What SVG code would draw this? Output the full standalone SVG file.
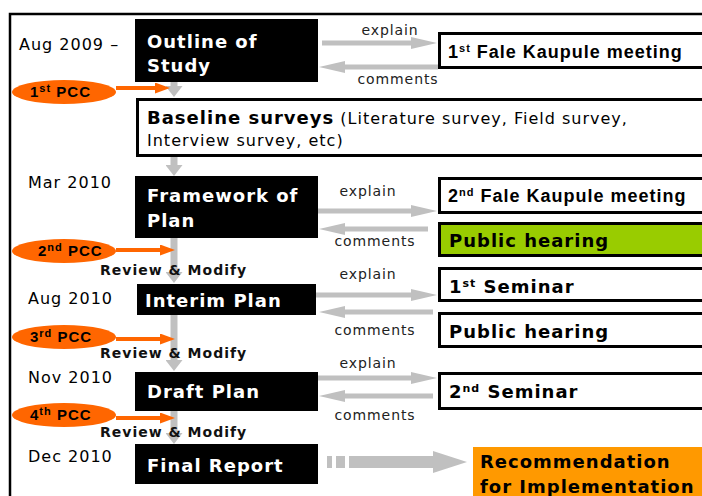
<svg xmlns="http://www.w3.org/2000/svg" width="702" height="496" viewBox="0 0 702 496">
<style>
.v{font-family:"DejaVu Sans","Verdana",sans-serif}
.a{font-family:"Liberation Sans",Arial,sans-serif}
.date{font-size:16px;fill:#000;letter-spacing:1px}
.wb{font-size:18px;font-weight:bold;fill:#fff;letter-spacing:1px}
.blk{fill:#000}
.wbox{fill:#fff;stroke:#000;stroke-width:3}
.rb{font-size:18px;font-weight:bold;fill:#000;letter-spacing:1px}
.lbl{font-size:14px;fill:#222;text-anchor:middle;letter-spacing:0.9px}
.rm{font-size:14px;font-weight:bold;fill:#111;letter-spacing:1px}
.pcc{font-size:15px;font-weight:bold;fill:#000;letter-spacing:1px}
.ell{fill:#FF6600}
.gh{stroke:#C0C0C0;stroke-width:5;fill:none}
.gv{stroke:#C0C0C0;stroke-width:7;fill:none}
.oa{stroke:#FF6600;stroke-width:4;fill:none}
.sup{font-size:11px}
</style>
<defs>
<marker id="mh" markerUnits="userSpaceOnUse" markerWidth="26" markerHeight="12" viewBox="0 0 26 12" refX="1" refY="6" orient="auto"><path d="M0,0 L26,6 L0,12 z" fill="#C0C0C0"/></marker>
<marker id="mv" markerUnits="userSpaceOnUse" markerWidth="11" markerHeight="17" viewBox="0 0 11 17" refX="1" refY="8.5" orient="auto"><path d="M0,0 L11,8.5 L0,17 z" fill="#C0C0C0"/></marker>
<marker id="mo" markerUnits="userSpaceOnUse" markerWidth="15" markerHeight="11" viewBox="0 0 15 11" refX="1" refY="5.5" orient="auto"><path d="M0,0 L15,5.5 L0,11 z" fill="#FF6600"/></marker>
</defs>
<rect width="702" height="496" fill="#fff"/>
<path d="M10,500 V14 H710" fill="none" stroke="#000" stroke-width="2.5"/>

<g id="connectors">
<line class="gv" x1="174" y1="82" x2="174" y2="87" marker-end="url(#mv)"/>
<line class="gv" x1="174" y1="157" x2="174" y2="166" marker-end="url(#mv)"/>
<line class="gv" x1="174" y1="238" x2="174" y2="273" marker-end="url(#mv)"/>
<line class="gv" x1="174" y1="315" x2="174" y2="361" marker-end="url(#mv)"/>
<line class="gv" x1="174" y1="411" x2="174" y2="434" marker-end="url(#mv)"/>
<line class="gh" x1="322" y1="43" x2="412" y2="43" marker-end="url(#mh)"/>
<line class="gh" x1="438" y1="67" x2="344" y2="67" marker-end="url(#mh)"/>
<line class="gh" x1="318" y1="211" x2="412" y2="211" marker-end="url(#mh)"/>
<line class="gh" x1="428" y1="229" x2="344" y2="229" marker-end="url(#mh)"/>
<line class="gh" x1="316" y1="295" x2="412" y2="295" marker-end="url(#mh)"/>
<line class="gh" x1="433" y1="312" x2="344" y2="312" marker-end="url(#mh)"/>
<line class="gh" x1="316" y1="378" x2="412" y2="378" marker-end="url(#mh)"/>
<line class="gh" x1="433" y1="396" x2="344" y2="396" marker-end="url(#mh)"/>
<line class="oa" x1="116" y1="88" x2="156" y2="88" marker-end="url(#mo)"/>
<line class="oa" x1="116" y1="250" x2="161" y2="250" marker-end="url(#mo)"/>
<line class="oa" x1="116" y1="339" x2="161" y2="339" marker-end="url(#mo)"/>
<line class="oa" x1="116" y1="418" x2="161" y2="418" marker-end="url(#mo)"/>
<rect x="327" y="456" width="5" height="12" fill="#C0C0C0"/>
<rect x="336" y="456" width="9" height="12" fill="#C0C0C0"/>
<rect x="349" y="456" width="85" height="12" fill="#C0C0C0"/>
<polygon points="433,451 467,462 433,473" fill="#C0C0C0"/>
<text class="v lbl" x="390" y="35">explain</text>
<text class="v lbl" x="398" y="84">comments</text>
<text class="v lbl" x="368" y="196">explain</text>
<text class="v lbl" x="375" y="246">comments</text>
<text class="v lbl" x="368" y="279">explain</text>
<text class="v lbl" x="375" y="335">comments</text>
<text class="v lbl" x="368" y="368">explain</text>
<text class="v lbl" x="375" y="420">comments</text>
<text class="v rm" x="100" y="275">Review &amp; Modify</text>
<text class="v rm" x="100" y="358">Review &amp; Modify</text>
<text class="v rm" x="100" y="437">Review &amp; Modify</text>
</g>

<g id="dates">
<text class="v date" x="19" y="50">Aug 2009 –</text>
<text class="v date" x="28" y="188">Mar 2010</text>
<text class="v date" x="28" y="304">Aug 2010</text>
<text class="v date" x="28" y="383">Nov 2010</text>
<text class="v date" x="28" y="462">Dec 2010</text>
</g>

<g id="outline">
<rect class="blk" x="135" y="19" width="183" height="63"/>
<text class="v wb" x="147" y="48">Outline of</text>
<text class="v wb" x="147" y="72">Study</text>
</g>
<g id="baseline">
<rect class="wbox" x="137.5" y="99.5" width="580" height="56"/>
<text class="v" x="147" y="124" font-size="16" letter-spacing="1"><tspan font-weight="bold" font-size="18">Baseline surveys</tspan> (Literature survey, Field survey,</text>
<text class="v" x="147" y="146" font-size="16" letter-spacing="1">Interview survey, etc)</text>
</g>
<g id="framework">
<rect class="blk" x="135" y="176" width="183" height="62"/>
<text class="v wb" x="147" y="202" letter-spacing="1.2">Framework of</text>
<text class="v wb" x="147" y="227">Plan</text>
</g>
<g id="interim">
<rect class="blk" x="137" y="284" width="179" height="31"/>
<text class="v wb" x="145" y="307" letter-spacing="1.3">Interim Plan</text>
</g>
<g id="draft">
<rect class="blk" x="135" y="372" width="183" height="39"/>
<text class="v wb" x="147" y="398">Draft Plan</text>
</g>
<g id="final">
<rect class="blk" x="135" y="444" width="183" height="40"/>
<text class="v wb" x="147" y="472">Final Report</text>
</g>

<g id="fale1">
<rect class="wbox" x="439.5" y="33.5" width="280" height="34"/>
<text class="a rb" x="448" y="58">1<tspan class="sup" dy="-6">st</tspan><tspan dy="6"> Fale Kaupule meeting</tspan></text>
</g>
<g id="fale2">
<rect class="wbox" x="439.5" y="178.5" width="280" height="34"/>
<text class="a rb" x="448" y="202" letter-spacing="1.2">2<tspan class="sup" dy="-6">nd</tspan><tspan dy="6"> Fale Kaupule meeting</tspan></text>
</g>
<g id="hearing1">
<rect class="wbox" x="439.5" y="223.5" width="280" height="32" style="fill:#99CC00"/>
<text class="v rb" x="449" y="247">Public hearing</text>
</g>
<g id="seminar1">
<rect class="wbox" x="439.5" y="268.5" width="280" height="32"/>
<text class="v rb" x="449" y="293">1<tspan class="sup" dy="-6">st</tspan><tspan dy="6"> Seminar</tspan></text>
</g>
<g id="hearing2">
<rect class="wbox" x="439.5" y="313.5" width="280" height="33"/>
<text class="v rb" x="449" y="338">Public hearing</text>
</g>
<g id="seminar2">
<rect class="wbox" x="439.5" y="373.5" width="280" height="35"/>
<text class="v rb" x="449" y="398">2<tspan class="sup" dy="-6">nd</tspan><tspan dy="6"> Seminar</tspan></text>
</g>
<g id="recommendation">
<rect x="473" y="447" width="240" height="60" fill="#FF9900"/>
<text class="v rb" x="480" y="468" letter-spacing="1.9">Recommendation</text>
<text class="v rb" x="480" y="493" letter-spacing="1.8">for Implementation</text>
</g>

<g id="pcc1">
<ellipse class="ell" cx="64" cy="92" rx="52" ry="12"/>
<text class="a pcc" x="30" y="97">1<tspan class="sup" dy="-5">st</tspan><tspan dy="5"> PCC</tspan></text>
</g>
<g id="pcc2">
<ellipse class="ell" cx="64" cy="251" rx="52" ry="12"/>
<text class="a pcc" x="38" y="256">2<tspan class="sup" dy="-5">nd</tspan><tspan dy="5"> PCC</tspan></text>
</g>
<g id="pcc3">
<ellipse class="ell" cx="64" cy="337" rx="52" ry="12"/>
<text class="a pcc" x="30" y="342">3<tspan class="sup" dy="-5">rd</tspan><tspan dy="5"> PCC</tspan></text>
</g>
<g id="pcc4">
<ellipse class="ell" cx="64" cy="415" rx="52" ry="12"/>
<text class="a pcc" x="30" y="420">4<tspan class="sup" dy="-5">th</tspan><tspan dy="5"> PCC</tspan></text>
</g>
</svg>
